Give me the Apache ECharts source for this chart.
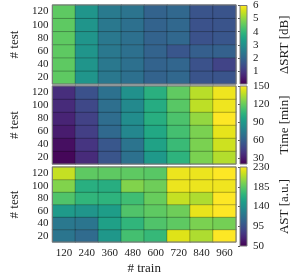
<!DOCTYPE html>
<html><head><meta charset="utf-8">
<script src="https://cdn.jsdelivr.net/npm/echarts@6/dist/echarts.min.js"></script>
<style>html,body{margin:0;padding:0;background:#fff}#c{width:294px;height:276px}</style>
</head><body><div id="c"></div>
<script>
const trainLabels = ['120','240','360','480','600','720','840','960'];
const testLabels = ['20','40','60','80','100','120'];
// rows: test 20 -> 120, columns: train 120 -> 960
const srtValues = [
  [4.5, 3.1, 2.4, 2.2, 1.9, 2.0, 1.55, 1.55],
  [4.5, 3.1, 2.4, 2.2, 1.9, 1.95, 1.5, 1.2],
  [4.5, 3.1, 2.4, 2.2, 1.9, 1.6, 1.8, 1.85],
  [4.5, 3.1, 2.4, 2.2, 1.9, 2.0, 1.5, 1.6],
  [4.5, 3.1, 2.4, 2.2, 1.9, 2.0, 1.5, 1.55],
  [4.5, 3.1, 2.45, 2.3, 1.9, 2.0, 1.55, 1.55]
];
const timeValues = [
  [22, 36, 54, 68, 90, 104, 124, 135],
  [25, 40, 55, 70, 95, 108, 124, 140],
  [30, 44, 64, 80, 98, 111, 124, 145],
  [33, 45, 66, 83, 101, 113, 129, 150],
  [36, 48, 67, 81, 100, 116, 137, 147],
  [37, 52, 68, 85, 102, 118, 136, 147]
];
const astValues = [
  [120, 112, 145, 176, 170, 221, 208, 230],
  [122, 120, 152, 168, 180, 185, 194, 192],
  [147, 143, 150, 180, 185, 190, 224, 230],
  [180, 168, 166, 174, 188, 214, 208, 230],
  [196, 163, 162, 196, 190, 225, 225, 226],
  [214, 185, 185, 185, 183, 225, 225, 230]
];
const srtRange = [0, 6], srtTicks = [1, 2, 3, 4, 5, 6];
const timeRange = [20, 150], timeTicks = [30, 60, 90, 120, 150];
const astRange = [50, 230], astTicks = [50, 95, 140, 185, 230];
const barNames = ['ΔSRT [dB]', 'Time [min]', 'AST [a.u.]'];

const viridis = ['#440154','#471365','#482475','#463480','#414487','#3b528b','#355f8d','#2f6c8e','#2a788e','#25848e','#21918c','#1e9c89','#22a884','#2fb47c','#44bf70','#5ec962','#7ad151','#9bd93c','#bddf26','#dfe318','#fde725'];

const FONT = 'Liberation Serif';
const panels = [
  {vals: srtValues, range: srtRange, ticks: srtTicks, top: 5, h: 79},
  {vals: timeValues, range: timeRange, ticks: timeTicks, top: 86, h: 78},
  {vals: astValues, range: astRange, ticks: astTicks, top: 167, h: 79}
];
const nameStyle = {fontFamily: FONT, fontSize: 13, color: '#222'};
const grid = [], xAxis = [], yAxis = [], series = [], visualMap = [];
panels.forEach((p, i) => {
  const last = i === 2;
  grid.push({left: 37, top: p.top, width: 199, height: p.h, show: true, z: 10,
    borderColor: '#7a7a7a', borderWidth: 1, backgroundColor: 'transparent'});
  grid.push({left: 240, top: p.top, width: 7, height: p.h, show: true, z: 10,
    borderColor: '#7a7a7a', borderWidth: 1, backgroundColor: 'transparent'});
  xAxis.push({type: 'category', gridIndex: 2*i, data: trainLabels,
    axisLine: {show: false},
    axisTick: {show: true, inside: true, alignWithLabel: true, length: 2, lineStyle: {color: '#555'}},
    axisLabel: {show: last, interval: 0, fontFamily: FONT, fontSize: 11, color: '#222', margin: 6},
    name: last ? '# train' : '', nameLocation: 'middle', nameGap: 20,
    nameTextStyle: nameStyle});
  xAxis.push({type: 'value', gridIndex: 2*i+1, min: 0, max: 1, show: false});
  yAxis.push({type: 'category', gridIndex: 2*i, data: testLabels,
    axisLine: {show: false},
    axisTick: {show: true, inside: true, alignWithLabel: true, length: 2, lineStyle: {color: '#555'}},
    axisLabel: {interval: 0, fontFamily: FONT, fontSize: 11, color: '#222', margin: 4},
    name: '# test', nameLocation: 'middle', nameGap: 23, nameRotate: 90,
    nameTextStyle: nameStyle});
  yAxis.push({type: 'value', gridIndex: 2*i+1, position: 'right', min: p.range[0], max: p.range[1],
    splitLine: {show: false}, axisLine: {show: false},
    axisTick: {show: true, inside: true, length: 2, customValues: p.ticks, lineStyle: {color: '#555'}},
    axisLabel: {fontFamily: FONT, fontSize: 11, color: '#222', margin: 6, customValues: p.ticks},
    name: barNames[i], nameLocation: 'middle', nameGap: 31, nameRotate: 90,
    nameTextStyle: nameStyle});
  const data = [];
  p.vals.forEach((row, r) => row.forEach((v, c) => data.push([c, r, v])));
  series.push({type: 'heatmap', xAxisIndex: 2*i, yAxisIndex: 2*i, data: data,
    itemStyle: {borderColor: 'rgba(0,0,0,0.45)', borderWidth: 0.6}, emphasis: {disabled: true}});
  const rng = p.range;
  series.push({type: 'custom', xAxisIndex: 2*i+1, yAxisIndex: 2*i+1, data: [[0, rng[0], rng[1]]],
    renderItem: (params, api) => {
      const a = api.coord([0, api.value(1)]);
      const b = api.coord([1, api.value(2)]);
      const stops = viridis.map((c, k) => ({offset: k/(viridis.length-1), color: c}));
      return {type: 'rect', shape: {x: a[0], y: b[1], width: b[0]-a[0], height: a[1]-b[1]},
        style: {fill: new echarts.graphic.LinearGradient(0, 1, 0, 0, stops)}};
    }});
  visualMap.push({type: 'continuous', show: false, seriesIndex: 2*i, min: rng[0], max: rng[1],
    inRange: {color: viridis}});
});
const chart = echarts.init(document.getElementById('c'), null, {renderer: 'canvas'});
chart.setOption({animation: false, textStyle: {fontFamily: FONT}, grid, xAxis, yAxis, series, visualMap});
</script></body></html>
